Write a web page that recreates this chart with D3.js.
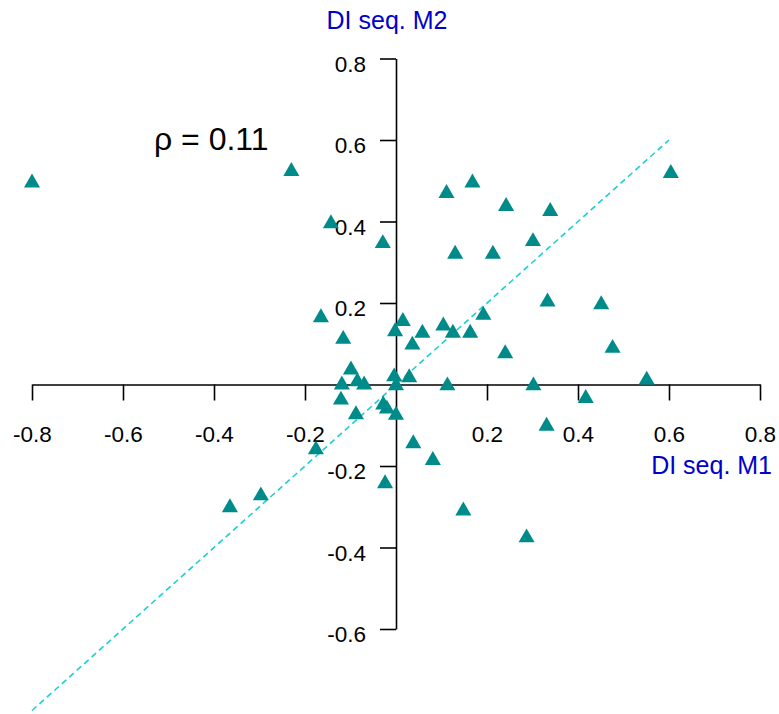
<!DOCTYPE html>
<html lang="en">
<head>
  <meta charset="UTF-8">
  <title>DI seq. M1 vs M2</title>
  <script src="https://d3js.org/d3.v7.min.js"></script>
  <style>
    * { margin: 0; padding: 0; box-sizing: border-box; }
    body {
      background: #fff;
      font-family: 'Liberation Sans', Arial, sans-serif;
    }
    svg { display: block; }
    .axis path, .axis line { stroke: #000; stroke-width: 1.6; }
    .axis text { font-size: 22.5px; fill: #000; font-family: 'Liberation Sans', Arial, sans-serif; }
    .axis-title { fill: #0000cc; font-size: 25px; }
  </style>
</head>
<body>
  <div id="chart"></div>

  <script>
    // values: DI seq. M1 (x) and DI seq. M2 (y)
    const m1 = [-0.80, -0.23, -0.143, -0.029, 0.111, 0.168, 0.242, 0.130, 0.213, 0.339,
                0.604, 0.301, 0.333, 0.451, 0.192, 0.104, 0.125, 0.163, 0.240, 0.476,
                0.113, 0.302, 0.551, 0.417, 0.331, -0.165, -0.116, 0.015, -0.002, 0.058,
                0.036, -0.099, -0.119, -0.085, -0.070, -0.004, 0.0, 0.029, -0.121, -0.028,
                -0.020, -0.088, 0.0, -0.176, 0.038, 0.081, -0.024, 0.148, 0.287, -0.365,
                -0.297];
    const m2 = [0.50, 0.528, 0.40, 0.351, 0.474, 0.50, 0.442, 0.325, 0.325, 0.43,
                0.523, 0.356, 0.208, 0.201, 0.175, 0.149, 0.131, 0.131, 0.081, 0.094,
                0.002, 0.002, 0.016, -0.029, -0.097, 0.169, 0.116, 0.16, 0.135, 0.131,
                0.102, 0.041, 0.004, 0.012, 0.004, 0.024, 0.002, 0.022, -0.033, -0.045,
                -0.055, -0.069, -0.07, -0.155, -0.14, -0.181, -0.238, -0.305, -0.371, -0.297,
                -0.268];
    const xTicks = [-0.8, -0.6, -0.4, -0.2, 0.2, 0.4, 0.6, 0.8];
    const yTicks = [-0.6, -0.4, -0.2, 0.2, 0.4, 0.6, 0.8];
    const diagonal = [-0.8, 0.6];   // identity line y = x
    const rho = 0.11;

    const width = 779, height = 714;

    const x = d3.scaleLinear().domain([-0.8, 0.8]).range([32, 760]);
    const y = d3.scaleLinear().domain([-0.6, 0.8]).range([629, 58.5]);

    const svg = d3.select("#chart").append("svg")
      .attr("width", width)
      .attr("height", height);

    // axes cross at the origin
    svg.append("g")
      .attr("class", "axis")
      .attr("transform", `translate(0,${y(0)})`)
      .call(d3.axisBottom(x).tickValues(xTicks).tickSize(16).tickSizeOuter(0)
        .tickPadding(26).tickFormat(d3.format(".1f")))
      .call(g => g.selectAll("text").attr("dy", "0.71em"));

    svg.append("g")
      .attr("class", "axis")
      .attr("transform", `translate(${x(0)},0)`)
      .call(d3.axisLeft(y).tickValues(yTicks).tickSize(16).tickSizeOuter(0)
        .tickPadding(14).tickFormat(d3.format(".1f")))
      .call(g => g.selectAll("text").attr("dy", "0.56em"));

    // use a plain hyphen for negative labels
    svg.selectAll(".axis text").text(function() { return this.textContent.replace("\u2212", "-"); });

    // dashed identity line
    svg.append("path")
      .datum(diagonal)
      .attr("fill", "none")
      .attr("stroke", "#1ccfd4")
      .attr("stroke-width", 1.6)
      .attr("stroke-dasharray", "6,4")
      .attr("d", d3.line().x(d => x(d)).y(d => y(d)));

    // points
    const pts = m1.map((v, i) => ({ x: v, y: m2[i] }));
    svg.selectAll(".pt")
      .data(pts)
      .enter().append("path")
      .attr("class", "pt")
      .attr("transform", d => `translate(${x(d.x)},${y(d.y) + 2})`)
      .attr("d", d3.symbol(d3.symbolTriangle, 112))
      .attr("fill", "#008b8b");

    // axis titles
    svg.append("text")
      .attr("class", "axis-title")
      .attr("x", 387)
      .attr("y", 29)
      .attr("text-anchor", "middle")
      .text("DI seq. M2");

    svg.append("text")
      .attr("class", "axis-title")
      .attr("x", 772)
      .attr("y", 474)
      .attr("text-anchor", "end")
      .text("DI seq. M1");

    // correlation annotation
    svg.append("text")
      .attr("x", 154)
      .attr("y", 150)
      .attr("font-size", 32)
      .attr("fill", "#000")
      .text(`ρ = ${rho.toFixed(2)}`);
  </script>
</body>
</html>
